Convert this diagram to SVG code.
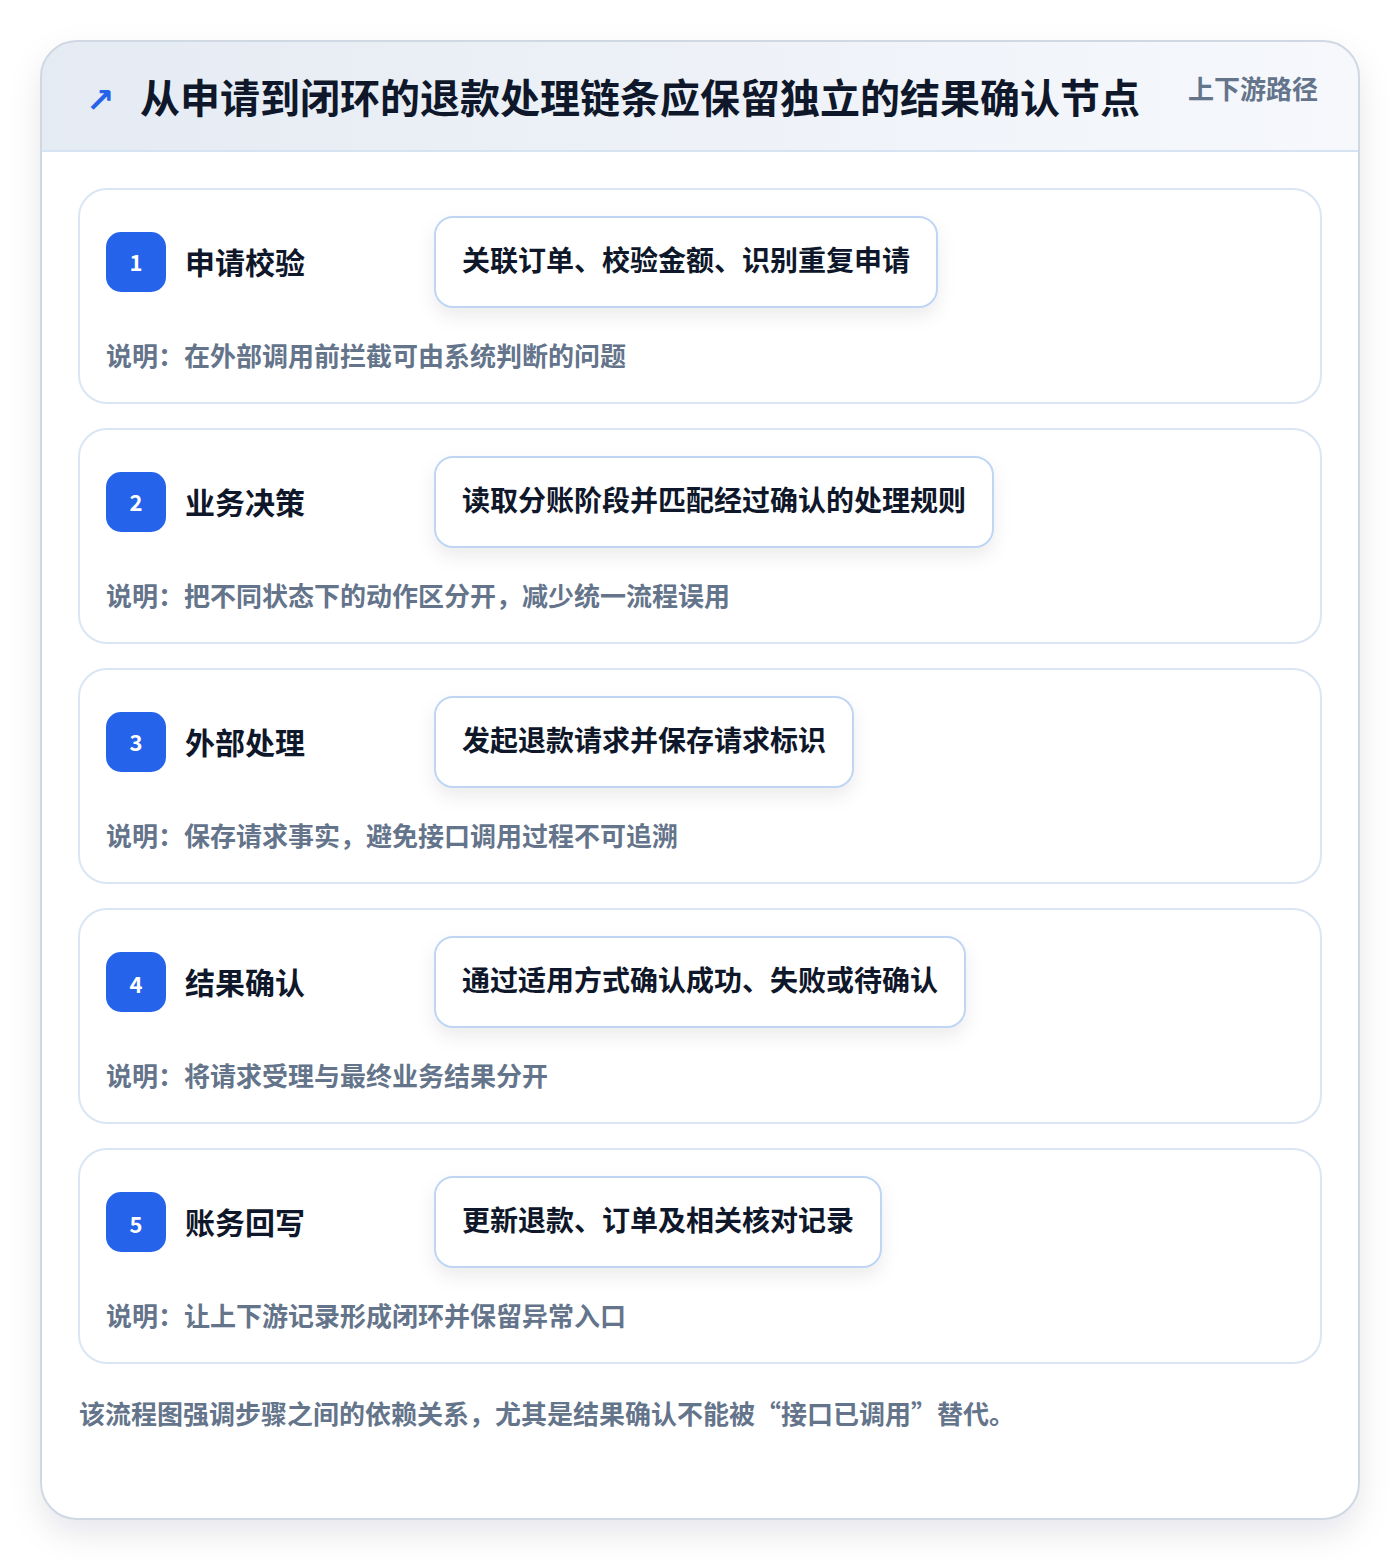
<svg xmlns="http://www.w3.org/2000/svg" width="1400" height="1560" viewBox="0 0 1400 1560">
<defs>
<linearGradient id="hdr" x1="0" y1="0" x2="1" y2="0">
<stop offset="0" stop-color="#e5ebf3"/>
<stop offset="1" stop-color="#f6f8fc"/>
</linearGradient>
<filter id="outerShadow" x="-10%" y="-10%" width="120%" height="120%">
<feDropShadow dx="0" dy="14" stdDeviation="16" flood-color="#0f172a" flood-opacity="0.10"/>
</filter>
<filter id="boxShadow" x="-20%" y="-40%" width="140%" height="180%">
<feDropShadow dx="0" dy="8" stdDeviation="9" flood-color="#0f172a" flood-opacity="0.08"/>
</filter>
<clipPath id="cardClip"><rect x="41" y="41" width="1318" height="1478" rx="36"/></clipPath>
</defs>
<style>
text{font-family:"Noto Sans CJK SC","Noto Sans",sans-serif;font-weight:700}
.card{fill:#ffffff;stroke:#dbe6f4;stroke-width:2}
.badge{fill:#2563eb}
.num{fill:#ffffff;font-size:22px;text-anchor:middle}
.title{fill:#0f172a;font-size:30px}
.box{fill:#ffffff;stroke:#bfd5f3;stroke-width:2}
.boxText{fill:#0f172a;font-size:28px}
.desc{fill:#64748b;font-size:26px}
</style>
<rect x="0" y="0" width="1400" height="1560" fill="#ffffff"/>
<g id="frame">
<rect x="41" y="41" width="1318" height="1478" rx="36" fill="#ffffff" filter="url(#outerShadow)"/>
<g clip-path="url(#cardClip)">
<rect x="41" y="41" width="1318" height="110" fill="url(#hdr)"/>
<line x1="41" y1="151" x2="1359" y2="151" stroke="#d6e3f3" stroke-width="2"/>
</g>
<rect x="41" y="41" width="1318" height="1478" rx="36" fill="none" stroke="#cfd8e3" stroke-width="2"/>
</g>
<g id="header">
<text x="86" y="112" font-size="34" fill="#2563eb" style="font-family:'DejaVu Sans',sans-serif">↗</text>
<text x="140" y="113" font-size="40" fill="#0f172a">从申请到闭环的退款处理链条应保留独立的结果确认节点</text>
<text x="1188" y="99" font-size="26" fill="#64748b">上下游路径</text>
</g>
<g id="step1">
<rect class="card" x="79" y="189" width="1242" height="214" rx="28"/>
<rect class="badge" x="106" y="232" width="60" height="60" rx="15"/>
<text class="num" x="136" y="271">1</text>
<text class="title" x="185" y="274">申请校验</text>
<rect class="box" x="435" y="217" width="502" height="90" rx="18" filter="url(#boxShadow)"/>
<text class="boxText" x="462" y="271">关联订单、校验金额、识别重复申请</text>
<text class="desc" x="106" y="366">说明：在外部调用前拦截可由系统判断的问题</text>
</g>
<g id="step2">
<rect class="card" x="79" y="429" width="1242" height="214" rx="28"/>
<rect class="badge" x="106" y="472" width="60" height="60" rx="15"/>
<text class="num" x="136" y="511">2</text>
<text class="title" x="185" y="514">业务决策</text>
<rect class="box" x="435" y="457" width="558" height="90" rx="18" filter="url(#boxShadow)"/>
<text class="boxText" x="462" y="511">读取分账阶段并匹配经过确认的处理规则</text>
<text class="desc" x="106" y="606">说明：把不同状态下的动作区分开，减少统一流程误用</text>
</g>
<g id="step3">
<rect class="card" x="79" y="669" width="1242" height="214" rx="28"/>
<rect class="badge" x="106" y="712" width="60" height="60" rx="15"/>
<text class="num" x="136" y="751">3</text>
<text class="title" x="185" y="754">外部处理</text>
<rect class="box" x="435" y="697" width="418" height="90" rx="18" filter="url(#boxShadow)"/>
<text class="boxText" x="462" y="751">发起退款请求并保存请求标识</text>
<text class="desc" x="106" y="846">说明：保存请求事实，避免接口调用过程不可追溯</text>
</g>
<g id="step4">
<rect class="card" x="79" y="909" width="1242" height="214" rx="28"/>
<rect class="badge" x="106" y="952" width="60" height="60" rx="15"/>
<text class="num" x="136" y="993">4</text>
<text class="title" x="185" y="994">结果确认</text>
<rect class="box" x="435" y="937" width="530" height="90" rx="18" filter="url(#boxShadow)"/>
<text class="boxText" x="462" y="991">通过适用方式确认成功、失败或待确认</text>
<text class="desc" x="106" y="1086">说明：将请求受理与最终业务结果分开</text>
</g>
<g id="step5">
<rect class="card" x="79" y="1149" width="1242" height="214" rx="28"/>
<rect class="badge" x="106" y="1192" width="60" height="60" rx="15"/>
<text class="num" x="136" y="1233">5</text>
<text class="title" x="185" y="1234">账务回写</text>
<rect class="box" x="435" y="1177" width="446" height="90" rx="18" filter="url(#boxShadow)"/>
<text class="boxText" x="462" y="1231">更新退款、订单及相关核对记录</text>
<text class="desc" x="106" y="1326">说明：让上下游记录形成闭环并保留异常入口</text>
</g>
<g id="connectors"></g>
<g id="footer">
<text x="79" y="1424" font-size="26" fill="#64748b">该流程图强调步骤之间的依赖关系，尤其是结果确认不能被“接口已调用”替代。</text>
</g>
</svg>
